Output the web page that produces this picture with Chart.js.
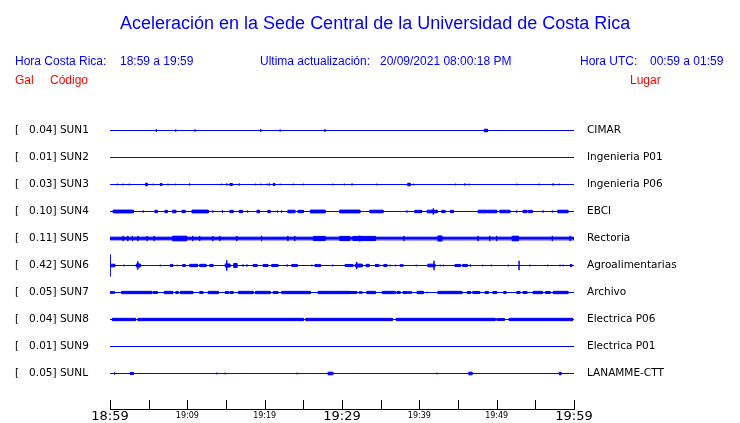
<!DOCTYPE html>
<html><head><meta charset="utf-8">
<script src="https://cdn.jsdelivr.net/npm/chart.js@4"></script>
<style>
html,body{margin:0;padding:0;background:#fff;}
#wrap{position:relative;width:740px;height:423px;overflow:hidden;background:#fff;}
canvas{position:absolute;left:0;top:0;}
.t{position:absolute;white-space:pre;font-family:"Liberation Sans",Arial,sans-serif;line-height:20px;height:20px;font-size:12px;}
.b{color:#0000ff;} .r{color:#ff0000;}
</style></head><body>
<div id="wrap">
<canvas id="c" width="740" height="423" style="width:740px;height:423px"></canvas>
<div class="t b" style="left:120px;top:13px;font-size:18px">Aceleración en la Sede Central de la Universidad de Costa Rica</div>
<div class="t b" style="left:15px;top:51px">Hora Costa Rica:</div>
<div class="t b" style="left:120px;top:51px">18:59 a 19:59</div>
<div class="t b" style="left:260px;top:51px">Ultima actualización:</div>
<div class="t b" style="left:380px;top:51px">20/09/2021 08:00:18 PM</div>
<div class="t b" style="left:580px;top:51px">Hora UTC:</div>
<div class="t b" style="left:650px;top:51px">00:59 a 01:59</div>
<div class="t r" style="left:15px;top:70px">Gal</div>
<div class="t r" style="left:50px;top:70px">Código</div>
<div class="t r" style="left:630px;top:70px">Lugar</div>
</div>
<script>
// ---- data (times in minutes after 18:59, amplitudes in Gal) ----
const codes = ['SUN1','SUN2','SUN3','SUN4','SUN5','SUN6','SUN7','SUN8','SUN9','SUNL'];
const peaks = [0.04,0.01,0.03,0.10,0.11,0.42,0.05,0.04,0.01,0.05];
const places = ['CIMAR','Ingenieria P01','Ingenieria P06','EBCI','Rectoria','Agroalimentarias','Archivo','Electrica P06','Electrica P01','LANAMME-CTT'];
const tickLabels = ['18:59','19:09','19:19','19:29','19:39','19:49','19:59'];

// events: [startMin, endMin, amplitudeGal]
const sun1 = [[6.0,6.0,0.05],[8.5,8.5,0.04],[11.0,11.0,0.04],[19.5,19.5,0.05],[22.0,22.0,0.04],[27.8,27.8,0.05],[48.4,48.8,0.05]];
const sun2 = [];
const sun3 = [[1.0,1.0,0.03],[1.7,1.7,0.03],[2.5,2.5,0.03],[4.6,4.8,0.05],[5.6,5.6,0.03],[6.5,6.7,0.04],[7.5,7.5,0.03],[8.5,8.5,0.03],[10.3,10.3,0.04],[14.4,14.4,0.03],[15.1,15.1,0.04],[15.5,15.8,0.04],[16.7,16.7,0.04],[18.8,18.8,0.03],[19.5,19.5,0.03],[20.3,20.3,0.03],[20.6,20.6,0.04],[21.1,21.3,0.04],[22.0,22.0,0.03],[23.7,23.7,0.03],[25.0,25.0,0.03],[28.8,28.8,0.03],[30.3,30.3,0.03],[31.3,31.3,0.04],[34.5,34.5,0.03],[38.5,38.8,0.05],[39.2,39.2,0.03],[44.7,44.7,0.03],[45.9,45.9,0.04],[46.4,46.4,0.03],[52.6,52.6,0.03],[55.5,55.5,0.03],[57.3,57.3,0.04],[58.1,58.1,0.03]];
const sun4 = [[0.4,3.0,0.055],[4.3,4.3,0.04],[5.8,6.1,0.045],[7.1,7.4,0.045],[8.1,8.5,0.05],[9.3,9.7,0.045],[10.6,12.7,0.055],[13.3,13.3,0.04],[14.5,14.6,0.045],[15.5,15.9,0.045],[16.7,17.1,0.045],[17.8,17.8,0.04],[19.0,19.3,0.05],[20.4,20.7,0.045],[21.6,21.7,0.04],[22.2,22.2,0.04],[23.0,23.9,0.05],[24.3,25.0,0.045],[25.9,27.8,0.055],[29.7,32.3,0.055],[33.6,35.3,0.05],[38.4,38.4,0.04],[39.4,40.3,0.045],[41.0,42.3,0.05],[41.8,41.8,0.12],[42.9,43.3,0.045],[44.0,44.4,0.045],[47.6,48.8,0.05],[48.9,50.0,0.05],[50.4,51.7,0.05],[52.6,52.6,0.04],[53.4,53.9,0.045],[54.1,54.6,0.045],[56.0,56.0,0.04],[57.2,57.2,0.04],[57.9,59.2,0.05]];
const sun5 = [[0,60,0.052],[1.7,1.7,0.1],[2.3,2.3,0.1],[2.9,2.9,0.1],[3.6,3.6,0.1],[4.8,4.8,0.1],[5.7,5.7,0.1],[8.1,9.9,0.09],[10.7,10.7,0.1],[11.6,11.6,0.1],[13.3,13.3,0.1],[14.2,14.2,0.1],[16.4,16.4,0.1],[19.6,19.6,0.1],[23.0,23.0,0.1],[23.9,23.9,0.1],[26.3,27.8,0.08],[29.7,31.0,0.08],[31.4,34.3,0.08],[32.3,32.3,0.11],[38.0,38.0,0.1],[42.4,42.9,0.1],[47.6,47.6,0.1],[49.1,49.1,0.1],[50.0,50.0,0.1],[52.0,52.8,0.09],[57.2,57.2,0.1],[59.5,59.5,0.1]];
const sun6 = [[0,0,0.42],[0.1,0.6,0.05],[1.8,1.8,0.03],[3.4,3.9,0.06],[3.6,3.6,0.16],[6.5,6.5,0.03],[7.8,8.1,0.04],[8.7,8.7,0.03],[9.4,9.7,0.04],[10.3,11.3,0.045],[11.6,12.4,0.045],[12.9,13.3,0.04],[14.9,15.5,0.06],[15.1,15.1,0.2],[16.0,16.4,0.08],[17.2,17.2,0.04],[17.7,17.7,0.04],[18.5,19.0,0.04],[19.8,20.4,0.04],[20.9,21.7,0.04],[22.9,22.9,0.04],[23.5,24.2,0.04],[26.1,26.1,0.03],[26.5,27.2,0.04],[28.8,28.8,0.03],[30.4,31.4,0.04],[31.7,32.6,0.055],[31.9,31.9,0.14],[33.1,33.5,0.045],[34.3,34.7,0.04],[34.9,34.9,0.03],[35.4,35.8,0.04],[36.2,36.2,0.03],[36.9,36.9,0.03],[37.5,37.9,0.03],[39.6,39.6,0.03],[41.1,42.0,0.05],[41.9,41.9,0.18],[42.7,42.7,0.03],[43.1,43.1,0.03],[44.6,45.3,0.04],[45.6,46.2,0.04],[46.6,46.6,0.04],[48.2,48.2,0.03],[49.3,49.3,0.03],[51.5,51.5,0.03],[52.9,52.9,0.18],[54.3,54.3,0.03],[56.6,56.6,0.03],[58.2,58.2,0.03],[58.6,58.6,0.03],[59.5,59.7,0.04]];
const sun7 = [[0.0,0.6,0.03],[1.5,5.4,0.045],[5.6,6.1,0.04],[7.0,8.1,0.045],[8.5,8.8,0.04],[9.1,10.7,0.045],[11.6,12.0,0.04],[12.7,14.0,0.045],[14.9,15.3,0.04],[15.5,15.9,0.04],[16.6,18.5,0.045],[18.8,20.7,0.045],[21.1,21.7,0.04],[22.2,25.9,0.045],[26.9,31.0,0.045],[31.0,31.9,0.04],[32.2,32.6,0.03],[33.2,34.3,0.045],[35.2,36.9,0.045],[37.1,37.5,0.04],[37.9,38.4,0.04],[38.5,39.0,0.03],[39.7,40.5,0.045],[41.0,41.0,0.03],[42.4,45.5,0.045],[46.2,46.6,0.04],[46.9,47.8,0.04],[48.5,48.9,0.04],[49.5,50.0,0.04],[50.9,51.2,0.04],[52.6,53.0,0.04],[53.4,53.9,0.04],[54.7,55.9,0.045],[56.3,56.9,0.04],[57.3,59.2,0.045]];
const sun8 = [[0.3,3.3,0.045],[3.6,25.0,0.045],[25.3,36.5,0.045],[37.0,49.8,0.045],[50.0,51.0,0.035],[51.6,59.8,0.045]];
const sun9 = [];
const sunl = [[0.6,0.6,0.04],[1.7,1.7,0.02],[2.6,3.0,0.04],[12.5,12.5,0.02],[13.8,13.8,0.03],[14.9,14.9,0.03],[17.7,17.7,0.02],[24.2,24.2,0.03],[28.2,28.8,0.05],[31.8,31.8,0.02],[42.3,42.3,0.03],[46.4,46.8,0.05],[47.3,47.3,0.02],[58.1,58.3,0.05]];
const traces = [sun1,sun2,sun3,sun4,sun5,sun6,sun7,sun8,sun9,sunl];

// ---- layout / style ----
const ROW_PX = 27, PX_PER_GAL = 26, K = PX_PER_GAL / ROW_PX;
const BLUE = '#0000ff';
const leftLabels = codes.map((c,i) => '[   ' + peaks[i].toFixed(2) + '] ' + c);

function tracePoints(ev, base) {
  const pts = [{x:0, y:base}];
  ev.slice().sort((a,b) => a[0]-b[0]).forEach(([t0,t1,a]) => {
    const h = a * K;
    if (t0 === t1) {
      pts.push({x:t0,y:base},{x:t0,y:base+h},{x:t0,y:base-h},{x:t0,y:base});
    } else {
      pts.push({x:t0,y:base},{x:t0,y:base+h},{x:t1,y:base+h},{x:t1,y:base-h},{x:t0,y:base-h},{x:t0,y:base});
    }
  });
  pts.push({x:60, y:base});
  return pts;
}

const datasets = traces.map((ev,i) => ({
  data: tracePoints(ev, -i),
  borderColor: BLUE, backgroundColor: BLUE, borderWidth: 1,
  pointRadius: 0, tension: 0, fill: {value: -i}, yAxisID: 'y'
}));

const upTicks = {
  id: 'upTicks',
  afterDraw(chart) {
    const xs = chart.scales.x, ctx = chart.ctx, bottom = chart.chartArea.bottom;
    ctx.save();
    ctx.strokeStyle = '#000'; ctx.lineWidth = 1;
    xs.ticks.forEach(t => {
      const px = Math.round(xs.getPixelForValue(t.value)) + 0.5;
      ctx.beginPath(); ctx.moveTo(px, bottom - 9); ctx.lineTo(px, bottom + 0.5); ctx.stroke();
    });
    ctx.restore();
  }
};

const TOP = 117, BOTTOM = 409;
const yMax = 0.5, yMin = -((BOTTOM - TOP) / ROW_PX - 0.5);
const rowTicks = s => { s.ticks = codes.map((c,i) => ({value: -i})); };
const noPad = s => { s.paddingTop = 0; s.paddingBottom = 0; };

new Chart(document.getElementById('c'), {
  type: 'line',
  data: {datasets},
  options: {
    responsive: false, maintainAspectRatio: false, animation: false, devicePixelRatio: 1, events: [],
    layout: {padding: {left: 15, top: TOP, right: 0, bottom: 0}},
    plugins: {legend: {display: false}, tooltip: {enabled: false}, title: {display: false}},
    scales: {
      x: {
        type: 'linear', min: 0, max: 60, position: 'bottom',
        grid: {display: false, drawTicks: false},
        border: {display: true, color: '#000', width: 1},
        ticks: {
          stepSize: 5, autoSkip: false, maxRotation: 0, padding: 0, color: '#000',
          callback: v => (v % 10 === 0 ? tickLabels[v / 10] : ''),
          font: ctx => (ctx.tick && ctx.tick.value % 30 === 0)
            ? {family: 'DejaVu Sans', size: 13, lineHeight: 1.1}
            : {family: 'DejaVu Sans', size: 8, lineHeight: 1.625}
        },
        afterFit: s => { s.height = 423 - BOTTOM; noPad(s); }
      },
      y: {
        type: 'linear', position: 'left', min: yMin, max: yMax, display: true,
        grid: {display: false, drawTicks: false}, border: {display: false},
        afterBuildTicks: rowTicks,
        ticks: {autoSkip: false, crossAlign: 'far', padding: 0, color: '#000',
          font: {family: 'DejaVu Sans', size: 10.5},
          callback: (v, i) => leftLabels[i]},
        afterFit: s => { s.width = 95; noPad(s); }
      },
      y2: {
        type: 'linear', position: 'right', min: yMin, max: yMax, display: true,
        grid: {display: false, drawTicks: false}, border: {display: false},
        afterBuildTicks: rowTicks,
        ticks: {autoSkip: false, crossAlign: 'near', padding: 13, color: '#000',
          font: {family: 'DejaVu Sans', size: 10.5},
          callback: (v, i) => places[i]},
        afterFit: s => { s.width = 166; noPad(s); }
      }
    }
  },
  plugins: [upTicks]
});
</script>
</body></html>
